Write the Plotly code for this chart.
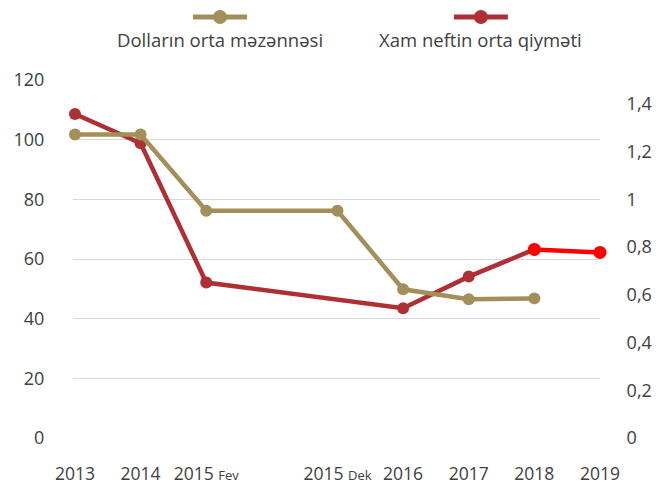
import plotly.graph_objects as go

# ---- data ----
categories = ["2013", "2014", "2015 Fev", "gap", "2015 Dek", "2016", "2017", "2018", "2019"]
tick_labels = ["2013", "2014", "2015 <span style='font-size:13px'>Fev</span>", "",
               "2015 <span style='font-size:13px'>Dek</span>", "2016", "2017", "2018", "2019"]
oil_price = [108.6, 98.8, 52.1, None, None, 43.5, 54.1, 63.2, 62.2]
dollar_rate = [1.272, 1.272, 0.952, None, 0.952, 0.623, 0.581, 0.585, None]
left_ticks = [0, 20, 40, 60, 80, 100, 120]
right_ticks = [0, 0.2, 0.4, 0.6, 0.8, 1.0, 1.2, 1.4]
right_labels = ["0", "0,2", "0,4", "0,6", "0,8", "1", "1,2", "1,4"]
legend_names = ["Dolların orta məzənnəsi", "Xam neftin orta qiyməti"]

OLIVE = "#A38F59"
DARK_RED = "#AE2F34"
BRIGHT_RED = "#FF0000"
TXT = "#404040"
FONT = "Open Sans"

# split series
olive_x = [c for c, v in zip(categories, dollar_rate) if v is not None]
olive_y = [v for v in dollar_rate if v is not None]
oil_pts = [(c, v) for c, v in zip(categories, oil_price) if v is not None]
dark_x = [c for c, v in oil_pts[:-1]]
dark_y = [v for c, v in oil_pts[:-1]]
bright_x = [c for c, v in oil_pts[-2:]]
bright_y = [v for c, v in oil_pts[-2:]]

fig = go.Figure()
fig.add_trace(go.Scatter(x=olive_x, y=olive_y, yaxis="y2", mode="lines+markers",
                         line=dict(color=OLIVE, width=4.5), marker=dict(size=12, color=OLIVE),
                         cliponaxis=False, showlegend=False))
fig.add_trace(go.Scatter(x=dark_x, y=dark_y, mode="lines+markers",
                         line=dict(color=DARK_RED, width=4.5), marker=dict(size=12, color=DARK_RED),
                         cliponaxis=False, showlegend=False))
fig.add_trace(go.Scatter(x=bright_x, y=bright_y, mode="lines+markers",
                         line=dict(color=BRIGHT_RED, width=4.5), marker=dict(size=13, color=BRIGHT_RED),
                         cliponaxis=False, showlegend=False))

# custom legend (symbol above text)
for xc, col, name in [(0.279, OLIVE, legend_names[0]), (0.774, DARK_RED, legend_names[1])]:
    fig.add_shape(type="line", xref="paper", yref="paper", xsizemode="pixel", ysizemode="pixel",
                  xanchor=xc, yanchor=1.176, x0=-27, x1=27, y0=0, y1=0,
                  line=dict(color=col, width=5))
    fig.add_shape(type="circle", xref="paper", yref="paper", xsizemode="pixel", ysizemode="pixel",
                  xanchor=xc, yanchor=1.176, x0=-7, x1=7, y0=-7, y1=7,
                  fillcolor=col, line=dict(color=col, width=0))
    fig.add_annotation(x=xc, y=1.112, xref="paper", yref="paper", text=name, showarrow=False,
                       font=dict(size=18.5, color=TXT, family=FONT), xanchor="center", yanchor="middle")

fig.update_layout(
    template="none",
    width=669, height=488,
    margin=dict(l=73, r=69, t=80, b=50, autoexpand=False),
    paper_bgcolor="white", plot_bgcolor="white",
    font=dict(family=FONT, color=TXT, size=17),
    xaxis=dict(type="category", categoryorder="array", categoryarray=categories,
               tickvals=categories, ticktext=tick_labels, range=[-0.03, 8], automargin=False,
               showgrid=False, zeroline=False, showline=False,
               ticks="outside", ticklen=20, tickcolor="rgba(0,0,0,0)",
               tickfont=dict(size=17.5, color=TXT, family=FONT)),
    yaxis=dict(range=[0, 120], tickvals=left_ticks, showgrid=True, gridcolor="#D9D9D9", gridwidth=1,
               zeroline=False, showline=False, ticks="outside", ticklen=24, automargin=False,
               tickcolor="rgba(0,0,0,0)", tickfont=dict(size=18, color=TXT, family=FONT)),
    yaxis2=dict(range=[0, 1.5], overlaying="y", side="right", tickvals=right_ticks,
                ticktext=right_labels, showgrid=False, zeroline=False, showline=False,
                ticks="outside", ticklen=22, tickcolor="rgba(0,0,0,0)", automargin=False,
                tickfont=dict(size=18, color=TXT, family=FONT)),
)

fig.write_html("out.html", config={"displayModeBar": False},
               post_script="document.body.style.margin='0';")
